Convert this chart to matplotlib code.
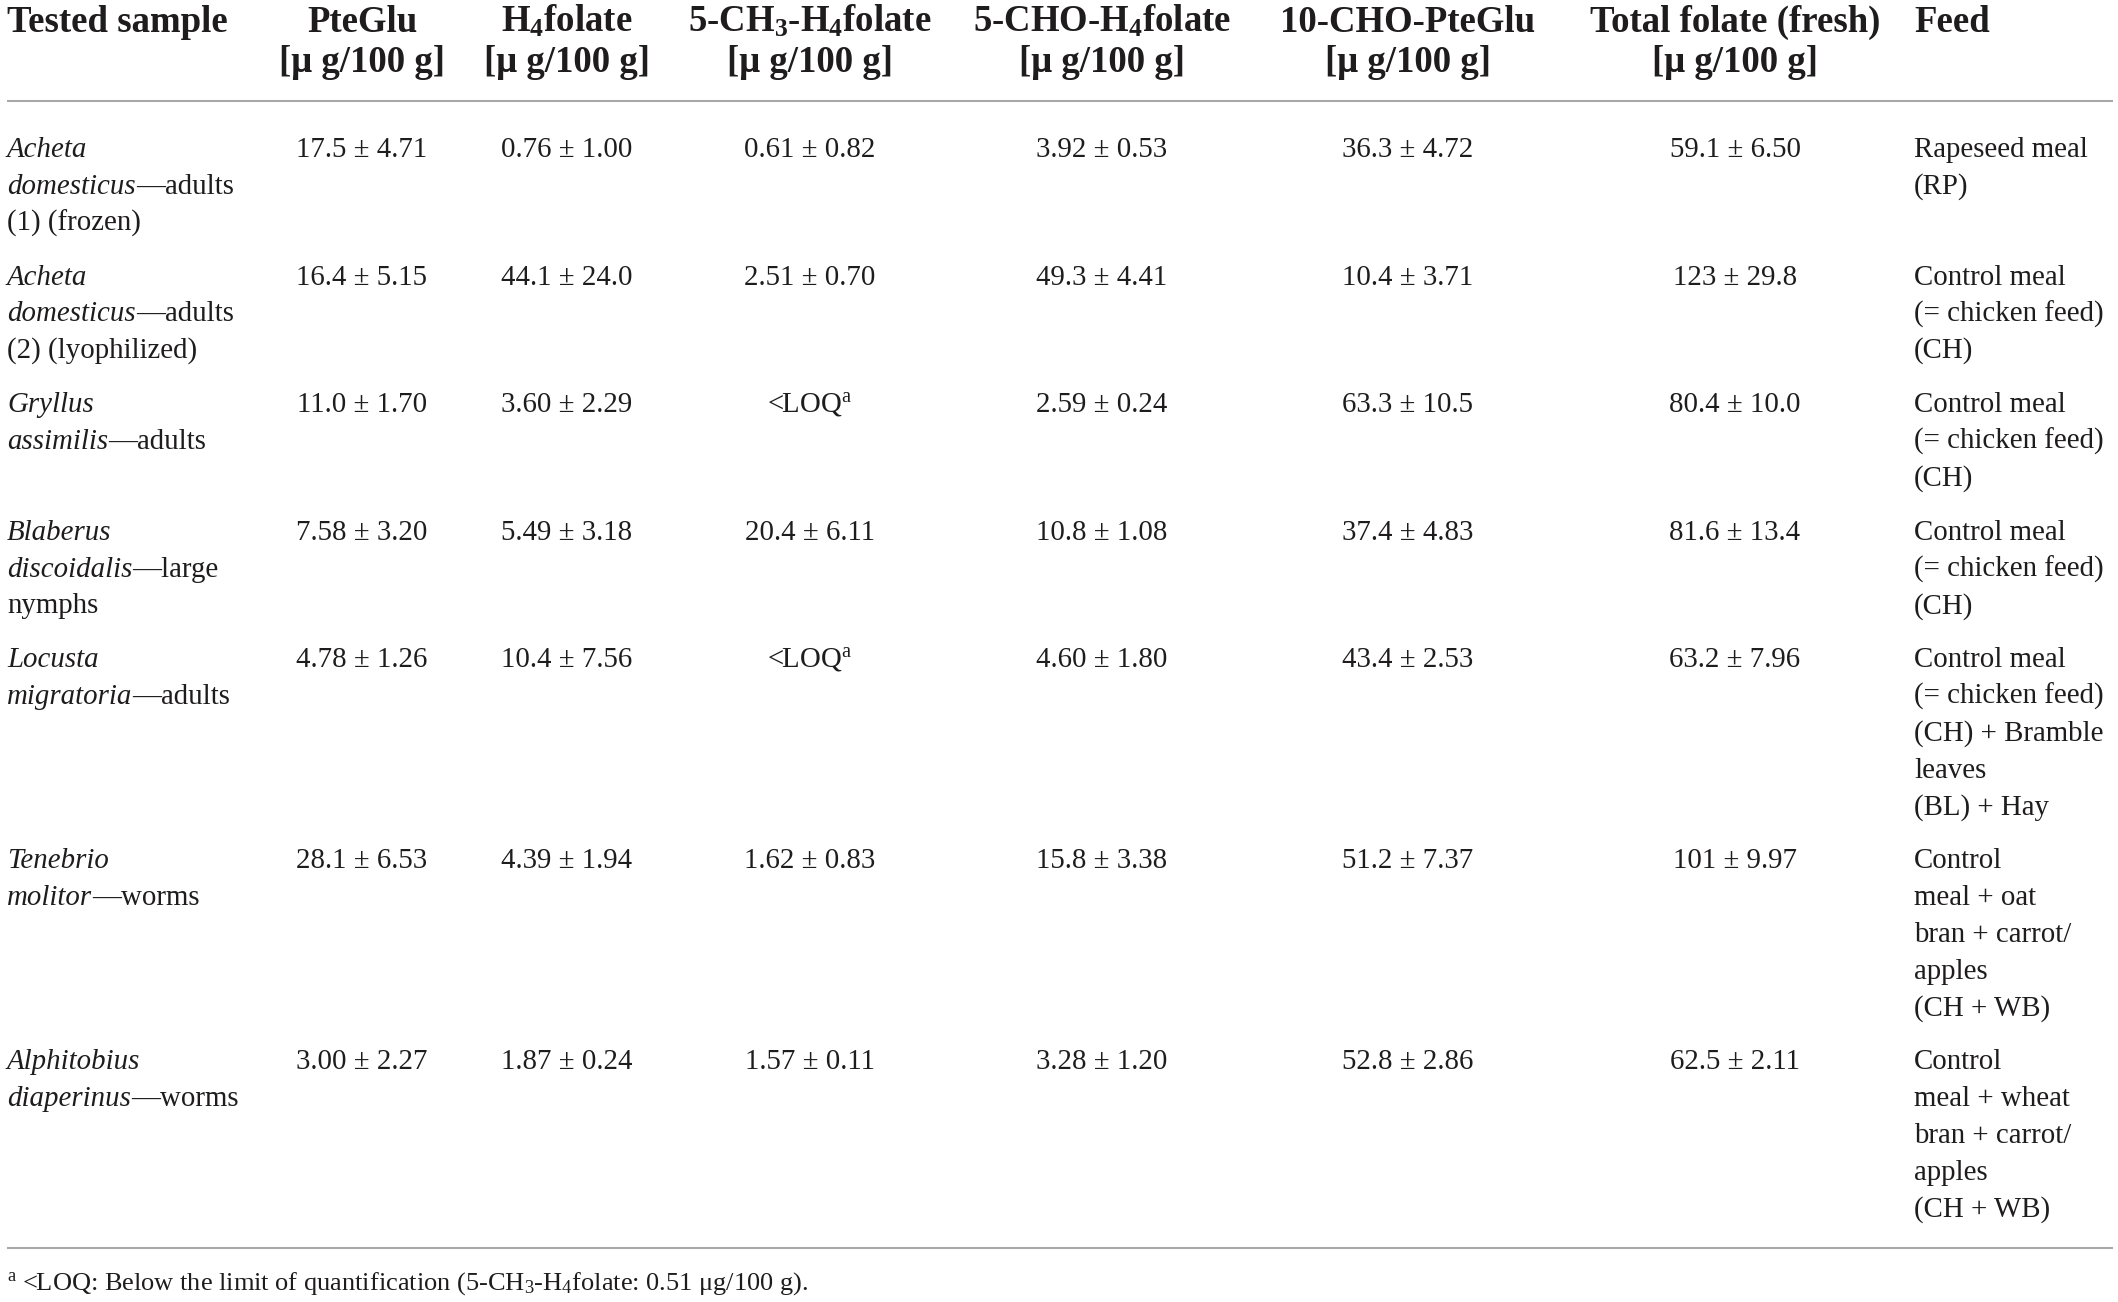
import matplotlib
matplotlib.use("Agg")
import matplotlib.pyplot as plt

plt.rcParams['font.family'] = ['Liberation Serif', 'DejaVu Serif']
plt.rcParams['mathtext.fontset'] = 'custom'
plt.rcParams['mathtext.rm'] = 'Liberation Serif'
plt.rcParams['mathtext.it'] = 'Liberation Serif:italic'
plt.rcParams['mathtext.bf'] = 'Liberation Serif:bold'

# ---------------- data ----------------
headers_line1 = ["Tested sample", "PteGlu", r"H$_\mathbf{4}$folate",
                 r"5-CH$_\mathbf{3}$-H$_\mathbf{4}$folate", r"5-CHO-H$_\mathbf{4}$folate",
                 "10-CHO-PteGlu", "Total folate (fresh)", "Feed"]
unit_label = "[μ g/100 g]"

sample_lines = [
    [[("Acheta", "italic")], [("domesticus", "italic"), ("—adults", "normal")], [("(1) (frozen)", "normal")]],
    [[("Acheta", "italic")], [("domesticus", "italic"), ("—adults", "normal")], [("(2) (lyophilized)", "normal")]],
    [[("Gryllus", "italic")], [("assimilis", "italic"), ("—adults", "normal")]],
    [[("Blaberus", "italic")], [("discoidalis", "italic"), ("—large", "normal")], [("nymphs", "normal")]],
    [[("Locusta", "italic")], [("migratoria", "italic"), ("—adults", "normal")]],
    [[("Tenebrio", "italic")], [("molitor", "italic"), ("—worms", "normal")]],
    [[("Alphitobius", "italic")], [("diaperinus", "italic"), ("—worms", "normal")]],
]

pteglu_mean = ["17.5", "16.4", "11.0", "7.58", "4.78", "28.1", "3.00"]
pteglu_sd = ["4.71", "5.15", "1.70", "3.20", "1.26", "6.53", "2.27"]
h4_mean = ["0.76", "44.1", "3.60", "5.49", "10.4", "4.39", "1.87"]
h4_sd = ["1.00", "24.0", "2.29", "3.18", "7.56", "1.94", "0.24"]
ch3_mean = ["0.61", "2.51", None, "20.4", None, "1.62", "1.57"]
ch3_sd = ["0.82", "0.70", None, "6.11", None, "0.83", "0.11"]
cho_mean = ["3.92", "49.3", "2.59", "10.8", "4.60", "15.8", "3.28"]
cho_sd = ["0.53", "4.41", "0.24", "1.08", "1.80", "3.38", "1.20"]
cho10_mean = ["36.3", "10.4", "63.3", "37.4", "43.4", "51.2", "52.8"]
cho10_sd = ["4.72", "3.71", "10.5", "4.83", "2.53", "7.37", "2.86"]
total_mean = ["59.1", "123", "80.4", "81.6", "63.2", "101", "62.5"]
total_sd = ["6.50", "29.8", "10.0", "13.4", "7.96", "9.97", "2.11"]

feed_lines = [
    ["Rapeseed meal", "(RP)"],
    ["Control meal", "(= chicken feed)", "(CH)"],
    ["Control meal", "(= chicken feed)", "(CH)"],
    ["Control meal", "(= chicken feed)", "(CH)"],
    ["Control meal", "(= chicken feed)", "(CH) + Bramble", "leaves", "(BL) + Hay"],
    ["Control", "meal + oat", "bran + carrot/", "apples", "(CH + WB)"],
    ["Control", "meal + wheat", "bran + carrot/", "apples", "(CH + WB)"],
]
loq_label = r"<LOQ$^\mathrm{a}$"
footnote = r"$^\mathrm{a}$ <LOQ: Below the limit of quantification (5-CH$_3$-H$_4$folate: 0.51 μg/100 g)."

value_cols = [(pteglu_mean, pteglu_sd), (h4_mean, h4_sd), (ch3_mean, ch3_sd),
              (cho_mean, cho_sd), (cho10_mean, cho10_sd), (total_mean, total_sd)]

# ---------------- layout ----------------
W, H = 2118, 1302
fig = plt.figure(figsize=(W / 100, H / 100), dpi=100)
ax = fig.add_axes([0, 0, 1, 1])
ax.set_xlim(0, W)
ax.set_ylim(H, 0)
ax.axis('off')

TXT = '#1e1c1d'
HFS = 26.5
BFS = 20.8
x_left = 7
centers = [362, 567, 810, 1102, 1408, 1735]
x_feed = 1914
line_h = 36.7
row_gap = 17.5

# header
ax.text(x_left, 32, headers_line1[0], fontsize=HFS, fontweight='bold', color=TXT, va='baseline', ha='left')
for cx, h in zip(centers, headers_line1[1:7]):
    ax.text(cx, 32, h, fontsize=HFS, fontweight='bold', color=TXT, va='baseline', ha='center')
    ax.text(cx, 72, unit_label, fontsize=HFS, fontweight='bold', color=TXT, va='baseline', ha='center')
ax.text(x_feed, 32, headers_line1[7], fontsize=HFS, fontweight='bold', color=TXT, va='baseline', ha='left')

ax.plot([7, 2113], [101, 101], color='#a8a8a8', lw=1.5, solid_capstyle='butt')

fig.canvas.draw()
renderer = fig.canvas.get_renderer()


def draw_runs(x, y, runs):
    for txt, style in runs:
        t = ax.text(x, y, txt, fontsize=BFS, style=style, color=TXT, va='baseline', ha='left')
        bb = t.get_window_extent(renderer=renderer)
        x += bb.width


y = 157
for i in range(len(sample_lines)):
    for k, runs in enumerate(sample_lines[i]):
        draw_runs(x_left, y + k * line_h, runs)
    for cx, (m, s) in zip(centers, value_cols):
        if m[i] is None:
            label = loq_label
        else:
            label = f"{m[i]} ± {s[i]}"
        ax.text(cx, y, label, fontsize=BFS, color=TXT, va='baseline', ha='center')
    for k, fl in enumerate(feed_lines[i]):
        ax.text(x_feed, y + k * line_h, fl, fontsize=BFS, color=TXT, va='baseline', ha='left')
    nlines = max(len(sample_lines[i]), len(feed_lines[i]))
    y += nlines * line_h + row_gap

ax.plot([7, 2113], [1248, 1248], color='#a8a8a8', lw=1.5, solid_capstyle='butt')
ax.text(x_left, 1290, footnote, fontsize=19, color=TXT, va='baseline', ha='left')

fig.savefig("out.png", dpi=100)
